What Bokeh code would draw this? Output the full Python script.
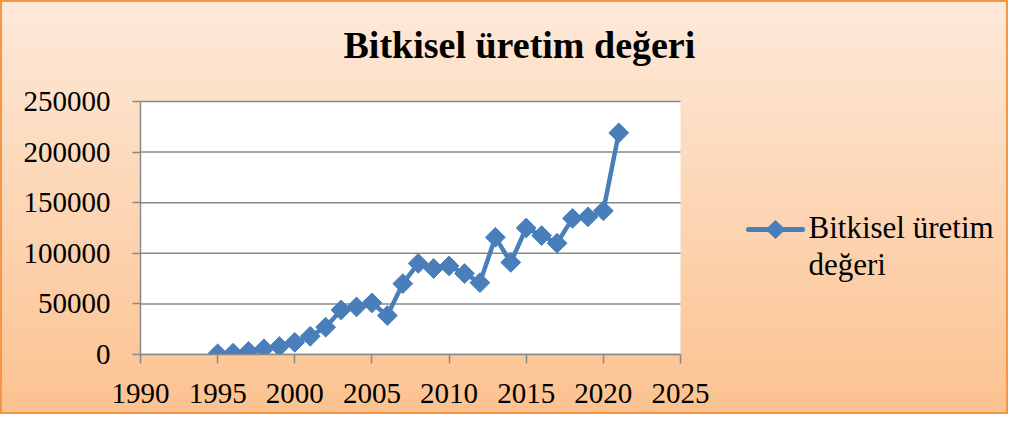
import math
from bokeh.plotting import figure
from bokeh.models import FixedTicker, BasicTickFormatter, Label, Arrow, PolyAnnotation
from bokeh.embed import file_html
from bokeh.resources import INLINE

# ---- data ----
years = [1995, 1996, 1997, 1998, 1999, 2000, 2001, 2002, 2003, 2004, 2005, 2006, 2007,
         2008, 2009, 2010, 2011, 2012, 2013, 2014, 2015, 2016, 2017, 2018, 2019, 2020, 2021]
values = [700, 1300, 3000, 5600, 7900, 12000, 18000, 27000, 44000, 47000, 51000, 38500, 70000,
          90000, 85000, 87500, 80000, 71000, 115800, 91000, 125000, 117500, 110000, 134500, 136000, 142000, 219000]
x_ticks = [1990, 1995, 2000, 2005, 2010, 2015, 2020, 2025]
y_ticks = [0, 50000, 100000, 150000, 200000, 250000]
title_text = "Bitkisel üretim değeri"
legend_lines = ["Bitkisel üretim", "değeri"]

FONT = "Liberation Serif"
BLUE = "#4A7EBB"
GRID = "#898989"

# ---- layout (pixels) ----
W, H = 1008, 414
PLOT_L, PLOT_R, PLOT_T, PLOT_B = 140, 680, 101, 354   # white plot area
x0, x1 = x_ticks[0], x_ticks[-1]
y0, y1 = y_ticks[0], y_ticks[-1]
px_per_x = (PLOT_R - PLOT_L) / (x1 - x0)
px_per_y = (PLOT_B - PLOT_T) / (y1 - y0)
x_end = x1 + (W - PLOT_R) / px_per_x    # frame reaches the right edge (room for legend)
y_end = y1 + PLOT_T / px_per_y          # frame reaches the top edge (room for title)

p = figure(width=W, height=H, output_backend="svg", toolbar_location=None,
           x_range=(x0, x_end), y_range=(y0, y_end),
           min_border_left=PLOT_L, min_border_right=0, min_border_top=0,
           min_border_bottom=H - PLOT_B)
p.title_location = None

p.styles = {
    "background": "linear-gradient(to bottom, #FDE9D9 0%, #FCC290 100%)",
    "box-shadow": "inset 0 0 0 2px #F79646",
}
p.border_fill_alpha = 0
p.background_fill_alpha = 0
p.outline_line_color = None

# white plot area
bg = p.quad(left=[x0], right=[x1], bottom=[y0], top=[y1], fill_color="white", line_color=None)
bg.level = "image"

# horizontal grid lines (only across the plot area)
p.ygrid.visible = False
p.xgrid.visible = False
gl = p.segment(x0=[x0] * len(y_ticks), x1=[x1] * len(y_ticks), y0=y_ticks, y1=y_ticks,
               line_color=GRID, line_width=1.5)
gl.level = "underlay"

# title
p.add_layout(Label(x=203, y=PLOT_B - 44, x_units="screen", y_units="screen",
                   text=title_text, text_font=FONT, text_font_size="38px", text_font_style="bold",
                   text_color="black", text_baseline="alphabetic", text_align="left"))

# axes
for ax in (p.xaxis[0], p.yaxis[0]):
    ax.axis_line_color = GRID
    ax.axis_line_width = 1.5
    ax.major_tick_line_color = GRID
    ax.major_tick_line_width = 1.5
    ax.major_tick_in = 0
    ax.minor_tick_line_color = None
    ax.major_label_text_font = FONT
    ax.major_label_text_font_size = "29px"
    ax.major_label_text_color = "black"

p.xaxis[0].ticker = FixedTicker(ticks=x_ticks)
p.xaxis[0].bounds = (x0, x1)
p.xaxis[0].major_tick_out = 9
p.xaxis[0].major_label_standoff = 20
p.yaxis[0].ticker = FixedTicker(ticks=y_ticks)
p.yaxis[0].bounds = (y0, y1)
p.yaxis[0].formatter = BasicTickFormatter(use_scientific=False)
p.yaxis[0].major_tick_out = 8
p.yaxis[0].major_label_standoff = 22

# series
ln = p.line(years, values, line_color=BLUE, line_width=4.5, line_join="round", line_cap="round")
mk = p.scatter(years, values, marker="square", angle=math.pi / 4, size=14,
               fill_color=BLUE, line_color=BLUE)

# legend (screen units, relative to frame bottom-left)
key_x0, key_x1, key_y = 608, 662, PLOT_B - 229
p.add_layout(Arrow(x_start=key_x0, y_start=key_y, x_end=key_x1, y_end=key_y,
                   start_units="screen", end_units="screen", start=None, end=None,
                   line_color=BLUE, line_width=5, line_cap="round"))
cx, r = (key_x0 + key_x1) / 2, 9.5
p.add_layout(PolyAnnotation(xs=[cx - r, cx, cx + r, cx], ys=[key_y, key_y + 9, key_y, key_y - 9],
                            xs_units="screen", ys_units="screen",
                            fill_color=BLUE, fill_alpha=1, line_color=BLUE, line_alpha=1,
                            editable=False))
for i, txt in enumerate(legend_lines):
    p.add_layout(Label(x=668, y=PLOT_B - 227 - 37 * i, x_units="screen", y_units="screen",
                       text=txt, text_font=FONT, text_font_size="31px", text_color="black",
                       text_baseline="alphabetic", text_align="left"))

open("out.html", "w").write(file_html(p, INLINE))
